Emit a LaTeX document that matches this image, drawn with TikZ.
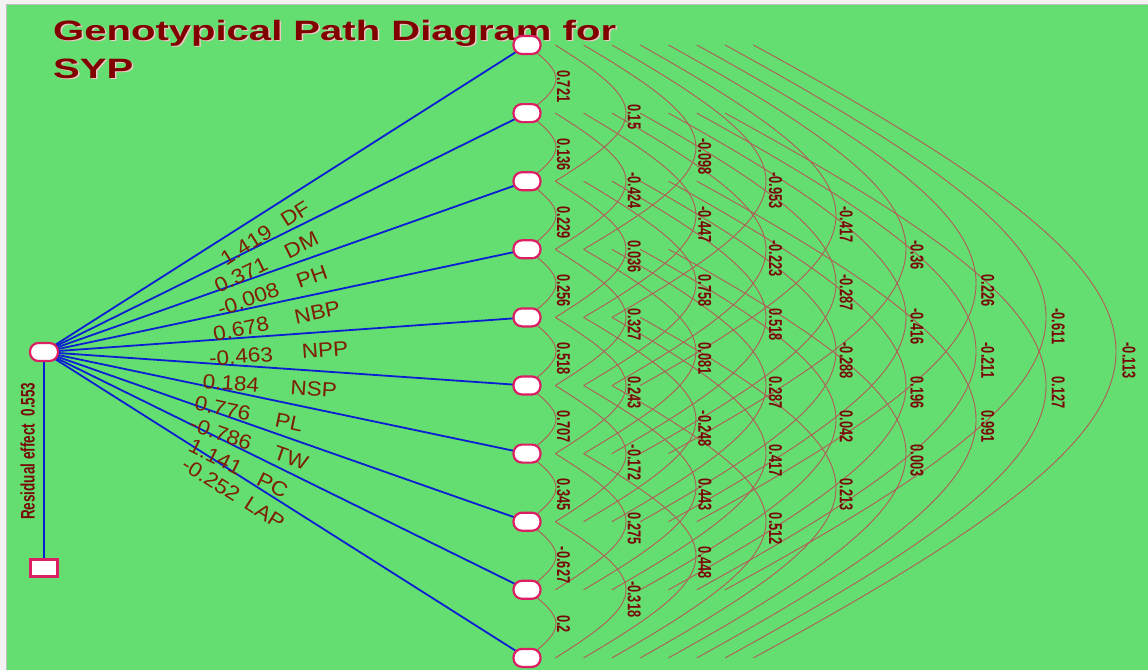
\documentclass[tikz,border=0pt]{standalone}
\usepackage{fontspec}
\setmainfont{Liberation Sans}
\usepackage{graphicx}
\usetikzlibrary{calc}
\pgfdeclarelayer{bg}
\pgfsetlayers{bg,main}
\definecolor{bggreen}{RGB}{100,222,112}
\definecolor{framecol}{RGB}{242,242,242}
\definecolor{nodeborder}{RGB}{220,30,100}
\definecolor{pathblue}{RGB}{10,30,210}
\definecolor{arccol}{RGB}{178,90,88}
\definecolor{lbl}{RGB}{120,8,8}
\definecolor{lbltwo}{RGB}{125,30,5}
\definecolor{titlecol}{RGB}{128,0,0}
\definecolor{shadowcol}{RGB}{240,200,200}
\begin{document}
\begin{tikzpicture}[x=1pt,y=-1pt,
  trait/.style={draw=nodeborder, line width=2.2pt, fill=white, rounded corners=8.5pt, minimum width=27pt, minimum height=18pt, inner sep=0pt},
  resid/.style={draw=nodeborder, line width=2.2pt, fill=white, minimum width=27pt, minimum height=17pt, inner sep=0pt},
  pathline/.style={draw=pathblue, line width=1.8pt},
  corrarc/.style={draw=arccol, line width=0.9pt},
  corrlbl/.style={text=lbl, inner sep=0pt, rotate=-90, anchor=south west, font=\fontsize{12.8}{13}\selectfont\bfseries},
  coeflbl/.style={text=lbltwo, sloped, anchor=north, inner xsep=0pt, inner ysep=11pt, font=\fontsize{20.5}{21}\selectfont},
  titletext/.style={anchor=base west, inner sep=0pt, font=\fontsize{28}{28}\selectfont\bfseries},
]
\useasboundingbox (0,0) rectangle (1148,670);
\begin{pgfonlayer}{bg}
\fill[framecol] (0,0) rectangle (1148,670);
\fill[bggreen] (7,5) rectangle (1148,670);
\draw[gray!50, line width=1pt] (6.5,670) -- (6.5,4.5) -- (1148,4.5);
\end{pgfonlayer}

% title
\node[titletext, text=shadowcol] (t1s) at (54.5,41.5) {\scalebox{1.43}[1]{Genotypical Path Diagram for}};
\node[titletext, text=titlecol] (t1) at (53,40) {\scalebox{1.43}[1]{Genotypical Path Diagram for}};
\node[titletext, text=shadowcol] (t2s) at (54.5,79.5) {\scalebox{1.43}[1]{SYP}};
\node[titletext, text=titlecol] (t2) at (53,78) {\scalebox{1.43}[1]{SYP}};

% nodes
\node[trait, minimum width=28pt] (L) at (44,352) {};
\node[resid] (R) at (44,568) {};
\foreach \k in {1,...,10} {
  \node[trait] (n\k) at (527,{45+68.1*(\k-1)}) {};
}

% residual
\begin{pgfonlayer}{bg}
\draw[pathline] (L.center) -- (R.center);
\end{pgfonlayer}
\node[rotate=90, anchor=south west, inner sep=0pt, text=lbl, font=\fontsize{13.5}{14}\selectfont\bfseries] (reslbl) at (35,520) {\scalebox{1}[1.45]{Residual effect\ \ 0.553}};

% direct paths
\foreach \k/\coef/\name/\pa/\pb in {1/1.419/DF/0.398/0.500, 2/0.371/DM/0.391/0.516, 3/-0.008/PH/0.410/0.542, 4/0.678/NBP/0.400/0.558, 5/-0.463/NPP/0.405/0.579, 6/0.184/NSP/0.390/0.561, 7/0.776/PL/0.378/0.515, 8/-0.786/TW/0.379/0.524, 9/1.141/PC/0.372/0.490, 10/-0.252/LAP/0.366/0.477} {
  \begin{pgfonlayer}{bg}
  \draw[pathline] (L.center) -- (n\k.center);
  \end{pgfonlayer}
  \path (L.center) -- (n\k.center)
    node[coeflbl, pos=\pa] (cf\k) {\scalebox{1.1}[1]{\coef}}
    node[coeflbl, pos=\pb] (nm\k) {\scalebox{1.1}[1]{\name}};
}

% correlation arcs
\foreach \d/\vals in {
  1/{0.721,0.136,0.229,0.256,0.518,0.707,0.345,-0.627,0.2},
  2/{0.15,-0.424,0.036,0.327,0.243,-0.172,0.275,-0.318},
  3/{-0.098,-0.447,0.758,0.081,-0.248,0.443,0.448},
  4/{-0.953,-0.223,0.518,0.287,0.417,0.512},
  5/{-0.417,-0.287,-0.288,0.042,0.213},
  6/{-0.36,-0.416,0.196,0.003},
  7/{0.226,-0.211,0.991},
  8/{-0.611,0.127},
  9/{-0.113}} {
  \pgfmathsetmacro\xs{28.3*(\d-1)}
  \pgfmathsetmacro\cc{4/3*(41.7*\d-12.7)}
  \pgfmathsetmacro\ee{0.43*68.1*\d}
  \pgfmathsetmacro\lx{486+70.7*\d-527}
  \foreach \v [count=\i] in \vals {
    \pgfmathtruncatemacro\j{\i+\d}
    \begin{pgfonlayer}{bg}
    \draw[corrarc] ($(n\i)+(\xs,0)$) .. controls +(\cc,\ee) and +(\cc,-\ee) .. ($(n\j)+(\xs,0)$);
    \end{pgfonlayer}
    \node[corrlbl] (c\i-\j) at ($(n\i)!0.5!(n\j)+(\lx,-9)$) {\scalebox{1}[1.45]{\v}};
  }
}
\end{tikzpicture}
\end{document}
